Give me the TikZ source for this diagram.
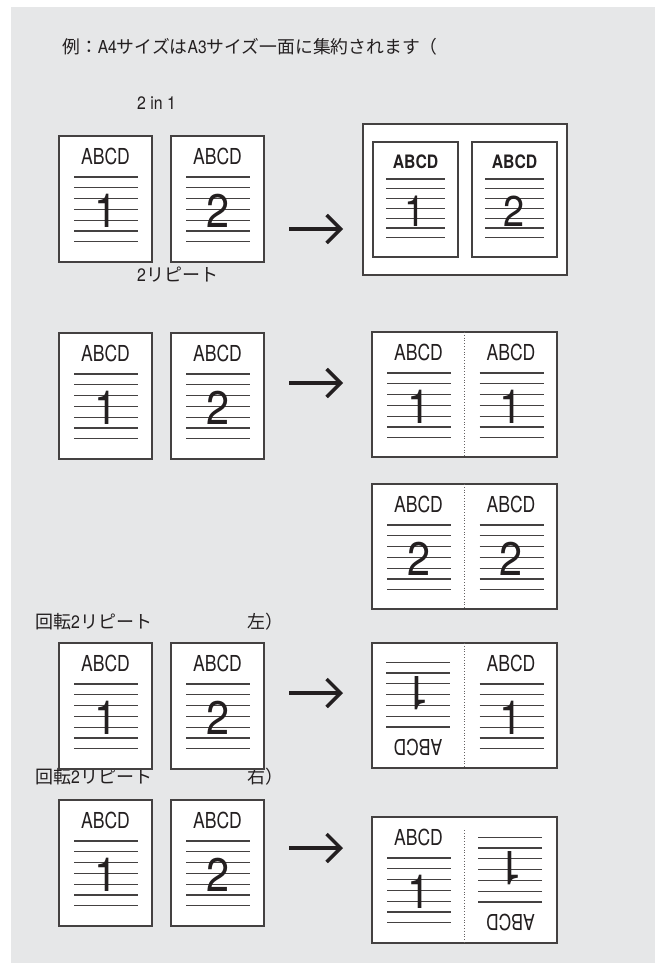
\documentclass[tikz,border=0pt]{standalone}
\usepackage{fontspec}
\setmainfont{TeX Gyre Heros}
\newfontfamily\condfont[FakeStretch=0.8]{TeX Gyre Heros}
\newfontfamily\condbold[FakeStretch=0.85,BoldFont={}]{TeX Gyre Heros Bold}
\newfontfamily\numfont[FakeStretch=0.88]{TeX Gyre Heros}
\newfontfamily\labfont[FakeStretch=0.88]{TeX Gyre Heros}
\newfontfamily\jpfont{Noto Sans CJK JP}
\usetikzlibrary{arrows.meta}
\definecolor{bg}{HTML}{E6E7E8}
\definecolor{ink}{HTML}{231F20}
\tikzset{
  sheet/.style={draw=ink!85, line width=1.1pt, fill=white, inner sep=0pt, outer sep=0pt},
  abcd/.style={inner sep=0pt, font=\fontsize{22}{22}\condfont, text=ink},
  abcdb/.style={inner sep=0pt, font=\fontsize{18.5}{18.5}\condbold, text=ink},
  numeral/.style={inner sep=0pt, font=\fontsize{47}{47}\numfont, text=ink},
  rule/.style={draw=ink!85, line width=1.1pt},
  fold/.style={draw=ink!70, line width=0.8pt, dotted},
  bigarrow/.style={draw=ink, line width=3.4pt, -{Straight Barb[length=14pt,width=28pt]}},
  lab/.style={inner sep=0pt, anchor=west, text=ink, font=\fontsize{18}{18}\jpfont},
  ttl/.style={inner sep=0pt, anchor=west, text=ink, font=\fontsize{17.8}{17.8}\jpfont},
}
% content of one page, relative to its top-left corner
\newcommand\pagebody[2]{%
  \node[abcd] (#1-t) at (46.5,20) {ABCD};
  \foreach \k in {0,...,6}{\draw[rule] (15,{41+10.8*\k}) -- (79,{41+10.8*\k});}
  \node[numeral] (#1-n) at (46.5,75) {#2};
}
\newcommand\smallbody[2]{%
  \node[abcdb] (#1-t) at (42.5,20) {ABCD};
  \foreach \k in {0,...,6}{\draw[rule] (13,{37+9.8*\k}) -- (72,{37+9.8*\k});}
  \node[numeral, font=\fontsize{43}{43}\numfont] (#1-n) at (42.5,69) {#2};
}
\newcommand\lat[1]{{\labfont #1}}
\begin{document}
\begin{tikzpicture}[x=1pt,y=-1pt]
\useasboundingbox (0,0) rectangle (655,963);
\fill[bg] (11,7) rectangle (655,963);

% texts
\node[ttl] (title) at (62,47) {例：\lat{A4}サイズは\lat{A3}サイズ一面に集約されます（};
\node[lab] (l1) at (137,103) {\lat{2 in 1}};
\node[lab] (l2) at (137,275) {\lat{2}リピート};
\node[lab] (l3) at (35,622) {回転\lat{2}リピート\hspace{5.3em}左）};
\node[lab] (l4) at (35,777) {回転\lat{2}リピート\hspace{5.3em}右）};

% ---------- small source pages
\foreach \nm/\xx/\yy/\d in {a1/59/136/1, a2/171/136/2, b1/59/333/1, b2/171/333/2, c1/59/643/1, c2/171/643/2, d1/59/800/1, d2/171/800/2}{
  \node[sheet, minimum width=93pt, minimum height=126pt, anchor=north west] (\nm) at (\xx,\yy) {};
  \begin{scope}[shift={(\xx,\yy)}]\pagebody{\nm}{\d}\end{scope}
}

% ---------- 2 in 1 result
\node[sheet, minimum width=204pt, minimum height=151pt, anchor=north west] (A) at (363,124) {};
\node[sheet, minimum width=85pt, minimum height=115pt, anchor=north west] (A1) at (373,142) {};
\node[sheet, minimum width=85pt, minimum height=115pt, anchor=north west] (A2) at (472,142) {};
\begin{scope}[shift={(373,142)}]\smallbody{A1}{1}\end{scope}
\begin{scope}[shift={(472,142)}]\smallbody{A2}{2}\end{scope}

% ---------- 2-up sheets
\foreach \nm/\yy/\d in {B/332/1, C/484/2}{
  \node[sheet, minimum width=185pt, minimum height=125pt, anchor=north west] (\nm) at (372,\yy) {};
  \draw[fold] (\nm.north) -- (\nm.south);
  \begin{scope}[shift={(372,\yy)}]\pagebody{\nm l}{\d}\end{scope}
  \begin{scope}[shift={(464.5,\yy)}]\pagebody{\nm r}{\d}\end{scope}
}

% rotate left
\node[sheet, minimum width=185pt, minimum height=125pt, anchor=north west] (D) at (372,643) {};
\draw[fold] (D.north) -- (D.south);
\begin{scope}[shift={(464.5,768)}, rotate=180, transform shape]\pagebody{Dl}{1}\end{scope}
\begin{scope}[shift={(464.5,643)}]\pagebody{Dr}{1}\end{scope}

% rotate right
\node[sheet, minimum width=185pt, minimum height=126pt, anchor=north west] (E) at (372,817) {};
\draw[fold] ([yshift=-13pt]E.north) -- (E.south);
\begin{scope}[shift={(372,817)}]\pagebody{El}{1}\end{scope}
\begin{scope}[shift={(557,943)}, rotate=180, transform shape]\pagebody{Er}{1}\end{scope}

% arrows
\coordinate (r1s) at (289,229); \coordinate (r1e) at (343,229);
\coordinate (r2s) at (289,383); \coordinate (r2e) at (343,383);
\coordinate (r3s) at (289,693); \coordinate (r3e) at (343,693);
\coordinate (r4s) at (289,848); \coordinate (r4e) at (343,848);
\draw[bigarrow] (r1s) -- (r1e);
\draw[bigarrow] (r2s) -- (r2e);
\draw[bigarrow] (r3s) -- (r3e);
\draw[bigarrow] (r4s) -- (r4e);
\end{tikzpicture}
\end{document}
